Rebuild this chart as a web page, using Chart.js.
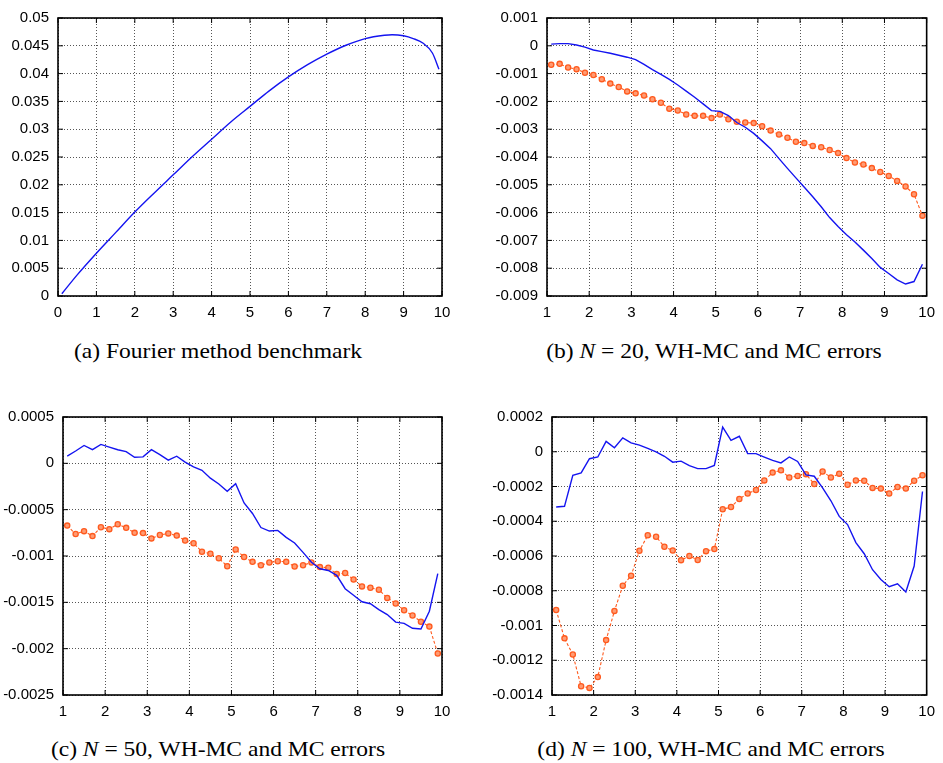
<!DOCTYPE html>
<html>
<head>
<meta charset="utf-8">
<script src="https://cdn.jsdelivr.net/npm/chart.js@4/dist/chart.umd.min.js"></script>
<style>
  html, body { margin: 0; padding: 0; background: #fff; }
  #page { position: relative; width: 943px; height: 763px; overflow: hidden; }
  #page canvas { position: absolute; }
  .cap { position: absolute; font-family: "Liberation Serif", serif; font-size: 21px; color: #000;
         white-space: nowrap; transform: translateX(-50%) scaleX(1.12); line-height: 22px; }
</style>
</head>
<body>
<div id="page">
  <canvas id="chartA" width="470" height="330" style="left:0px;top:0px;width:470px;height:330px"></canvas>
  <canvas id="chartB" width="473" height="330" style="left:470px;top:0px;width:473px;height:330px"></canvas>
  <canvas id="chartC" width="470" height="330" style="left:0px;top:399px;width:470px;height:330px"></canvas>
  <canvas id="chartD" width="473" height="330" style="left:470px;top:399px;width:473px;height:330px"></canvas>
  <div class="cap" style="left:218px;top:340px">(a) Fourier method benchmark</div>
  <div class="cap" style="left:714px;top:340px">(b) <i>N</i> = 20, WH-MC and MC errors</div>
  <div class="cap" style="left:218px;top:738px">(c) <i>N</i> = 50, WH-MC and MC errors</div>
  <div class="cap" style="left:711px;top:738px">(d) <i>N</i> = 100, WH-MC and MC errors</div>
</div>
<script>
// (a) Fourier benchmark curve
const fourierX = [0.1, 0.5, 1, 1.5, 2, 2.5, 3, 3.5, 4, 4.5, 5, 5.5, 6, 6.5, 7, 7.5, 8, 8.5, 8.7, 9, 9.25, 9.5, 9.75, 9.92];
const fourierY = [0.0004, 0.0038, 0.0077, 0.0114, 0.0151, 0.0185, 0.0218, 0.0251, 0.0282, 0.0313, 0.0341, 0.0369,
                  0.0394, 0.0416, 0.0435, 0.0451, 0.0463, 0.0469, 0.0470, 0.0468, 0.0463, 0.0455, 0.0437, 0.0408];

// strike grid shared by (b)-(d)
const strikes = [1.1, 1.3, 1.5, 1.7, 1.9, 2.1, 2.3, 2.5, 2.7, 2.9, 3.1, 3.3, 3.5, 3.7, 3.9,
                 4.1, 4.3, 4.5, 4.7, 4.9, 5.1, 5.3, 5.5, 5.7, 5.9, 6.1, 6.3, 6.5, 6.7, 6.9,
                 7.1, 7.3, 7.5, 7.7, 7.9, 8.1, 8.3, 8.5, 8.7, 8.9, 9.1, 9.3, 9.5, 9.7, 9.9];

// (b) N = 20
const whmc20 = [0.00006, 0.00008, 0.00008, 0.00003, -0.00005, -0.00015, -0.00021, -0.00027, -0.00034, -0.00041,
                -0.0005, -0.00067, -0.00086, -0.00103, -0.00121, -0.00141, -0.00163, -0.00185, -0.00209, -0.00233,
                -0.00236, -0.00251, -0.00276, -0.00293, -0.00315, -0.00342, -0.0037, -0.00406, -0.00441, -0.00475,
                -0.00509, -0.00543, -0.00579, -0.00618, -0.0065, -0.0068, -0.00706, -0.00735, -0.00765, -0.00797,
                -0.00819, -0.00842, -0.00857, -0.00848, -0.00786];
const mc20 = [-0.00068, -0.00065, -0.00078, -0.00084, -0.00097, -0.00105, -0.0012, -0.00136, -0.00148, -0.00164,
              -0.00171, -0.00179, -0.00192, -0.00205, -0.00226, -0.00233, -0.00247, -0.00252, -0.00252, -0.0026,
              -0.00247, -0.00264, -0.00273, -0.00276, -0.00278, -0.00289, -0.00305, -0.00319, -0.00331, -0.00345,
              -0.0035, -0.0036, -0.00365, -0.00375, -0.00386, -0.00404, -0.0042, -0.00427, -0.0044, -0.00454,
              -0.00468, -0.00486, -0.00506, -0.00534, -0.00611];

// (c) N = 50
const whmc50 = [0.000077, 0.000133, 0.000193, 0.000147, 0.000204, 0.000175, 0.000147, 0.000126, 0.000066, 0.00007,
                0.000147, 0.000094, 0.000034, 0.000077, 0.000013, -0.000039, -0.000075, -0.00016, -0.000223, -0.000301,
                -0.00022, -0.000428, -0.000541, -0.000693, -0.000731, -0.000724, -0.000799, -0.000859, -0.000961, -0.001067,
                -0.001138, -0.001156, -0.001208, -0.001353, -0.001424, -0.001494, -0.001515, -0.001579, -0.001632, -0.001713,
                -0.001727, -0.00178, -0.001787, -0.001596, -0.00119];
const mc50 = [-0.000672, -0.000763, -0.000732, -0.000785, -0.00069, -0.00071, -0.000658, -0.000696, -0.00075, -0.000753,
              -0.00081, -0.000774, -0.000756, -0.00078, -0.000834, -0.000862, -0.000954, -0.000975, -0.001025, -0.00111,
              -0.00093, -0.00101, -0.001063, -0.0011, -0.00107, -0.001057, -0.001063, -0.001113, -0.0011, -0.00107,
              -0.00112, -0.001127, -0.001194, -0.001184, -0.001254, -0.001328, -0.001342, -0.001364, -0.001452, -0.001512,
              -0.001586, -0.001642, -0.001709, -0.001762, -0.002052];

// (d) N = 100
const whmc100 = [-0.000318, -0.000314, -0.000135, -0.000122, -0.00004, -0.00003, 0.00006, 0.000023, 0.00008, 0.000051,
                 0.000038, 0.000019, -0.000001, -0.000026, -0.00006, -0.000054, -0.00008, -0.000097, -0.000097, -0.000079,
                 0.000142, 0.000066, 0.000089, -0.000011, -0.000011, -0.000031, -0.00005, -0.000064, -0.00003, -0.000056,
                 -0.000133, -0.000141, -0.000208, -0.000282, -0.000372, -0.000419, -0.000523, -0.000587, -0.000679, -0.000735,
                 -0.000777, -0.00076, -0.000807, -0.000658, -0.000229];
const mc100 = [-0.000911, -0.001074, -0.001167, -0.00135, -0.001359, -0.001297, -0.001084, -0.000916, -0.000771, -0.000713,
               -0.00057, -0.000481, -0.000489, -0.000547, -0.000568, -0.000624, -0.0006, -0.000623, -0.000572, -0.00056,
               -0.000331, -0.000318, -0.000272, -0.00024, -0.00022, -0.000165, -0.00012, -0.000107, -0.000148, -0.000139,
               -0.000129, -0.000186, -0.000114, -0.000148, -0.000126, -0.00019, -0.000165, -0.000167, -0.000208, -0.000212,
               -0.00024, -0.000203, -0.000212, -0.000167, -0.000135];

const BLUE = '#1414f0';
const ORANGE = '#ff5a1e';

function pairs(xs, ys) {
    return xs.map((x, i) => ({ x: x, y: ys[i] }));
}

function fmtTick(v) {
    const n = parseFloat(Number(v).toFixed(7));
    return n === 0 ? '0' : String(n);
}

// gnuplot style frame with inward tick marks
const framePlugin = {
    id: 'frame',
    afterDraw(chart) {
        const { ctx, chartArea: a, scales } = chart;
        ctx.save();
        ctx.strokeStyle = '#000';
        ctx.lineWidth = 1;
        ctx.beginPath();
        scales.x.ticks.forEach(t => {
            const px = scales.x.getPixelForValue(t.value);
            ctx.moveTo(px, a.bottom); ctx.lineTo(px, a.bottom - 5);
            ctx.moveTo(px, a.top); ctx.lineTo(px, a.top + 5);
        });
        scales.y.ticks.forEach(t => {
            const py = scales.y.getPixelForValue(t.value);
            ctx.moveTo(a.left, py); ctx.lineTo(a.left + 5, py);
            ctx.moveTo(a.right, py); ctx.lineTo(a.right - 5, py);
        });
        ctx.stroke();
        ctx.lineWidth = 1.6;
        ctx.strokeRect(a.left, a.top, a.right - a.left, a.bottom - a.top);
        ctx.restore();
    }
};

function makePanel(id, datasets, xr, yr, yAxisWidth, rightPad) {
    const ctx = document.getElementById(id).getContext('2d');
    return new Chart(ctx, {
        type: 'line',
        data: { datasets: datasets },
        options: {
            responsive: false,
            animation: false,
            events: [],
            layout: { padding: { left: 0, top: 13, right: rightPad, bottom: 0 } },
            plugins: { legend: { display: false }, tooltip: { enabled: false } },
            scales: {
                x: {
                    type: 'linear', min: xr[0], max: xr[1],
                    afterFit: s => { s.height = 34; },
                    ticks: { stepSize: 1, padding: 8, color: '#000', maxRotation: 0,
                             font: { family: 'Liberation Sans', size: 15 } },
                    grid: { color: '#555', lineWidth: 1, drawTicks: false },
                    border: { display: false, dash: [1, 2] }
                },
                y: {
                    type: 'linear', min: yr[0], max: yr[1],
                    afterFit: s => { s.width = yAxisWidth; },
                    ticks: { stepSize: yr[2], padding: 9, color: '#000', callback: fmtTick,
                             font: { family: 'Liberation Sans', size: 15 } },
                    grid: { color: '#555', lineWidth: 1, drawTicks: false },
                    border: { display: false, dash: [1, 2] }
                }
            }
        },
        plugins: [framePlugin]
    });
}

function whmcSet(ys) {
    return { label: 'WH-MC', data: pairs(strikes, ys), borderColor: BLUE, borderWidth: 1.4,
             pointRadius: 0, tension: 0, fill: false };
}
function mcSet(ys) {
    return { label: 'MC', data: pairs(strikes, ys), borderColor: ORANGE, borderWidth: 1.1,
             borderDash: [3, 2], pointRadius: 2.6, pointBorderWidth: 1.3, pointStyle: 'circle',
             pointBorderColor: ORANGE, pointBackgroundColor: '#ff9b73', tension: 0, fill: false };
}

makePanel('chartA', [{
    label: 'Fourier', data: pairs(fourierX, fourierY), borderColor: BLUE, borderWidth: 1.4,
    pointRadius: 0, cubicInterpolationMode: 'monotone', fill: false
}], [0, 10], [0, 0.05, 0.005], 58, 28);

makePanel('chartB', [whmcSet(whmc20), mcSet(mc20)], [1, 10], [-0.009, 0.001, 0.001], 77, 11);
makePanel('chartC', [whmcSet(whmc50), mcSet(mc50)], [1, 10], [-0.0025, 0.0005, 0.0005], 63, 28);
makePanel('chartD', [whmcSet(whmc100), mcSet(mc100)], [1, 10], [-0.0014, 0.0002, 0.0002], 82, 11);
</script>
</body>
</html>
